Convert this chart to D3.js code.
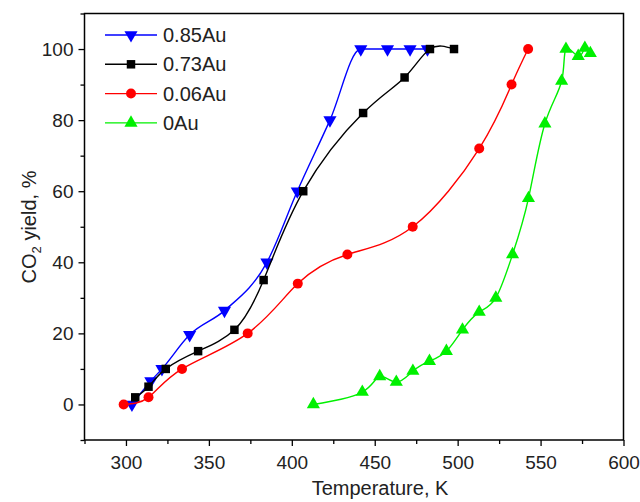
<!DOCTYPE html>
<html>
<head>
<meta charset="utf-8">
<script src="https://cdn.jsdelivr.net/npm/d3@7"></script>
<style>
  body { margin: 0; background: white; }
  svg { display: block; font-family: "Liberation Sans", Arial, sans-serif; }
</style>
</head>
<body>
<svg></svg>
<script>
const temp85 = [303.6, 315, 321.7, 338.4, 359.4, 385, 403.3, 423, 441.6, 457.7, 471.3, 481.8];
const yield85 = [0, 6.6, 10, 19.6, 26.4, 40, 60, 80, 100, 100, 100, 100];

const temp73 = [305.6, 313.6, 324, 343.5, 365.4, 383, 406.9, 443, 468, 483.3, 497.8];
const yield73 = [2, 5, 10, 15, 21, 35, 60, 82, 92, 100, 100];

const temp06 = [298.6, 313.6, 333.8, 373.4, 403.6, 433.5, 472.9, 513, 532.5, 542.5];
const yield06 = [0, 2, 10, 20, 34, 42.2, 50, 72, 90, 100];

const temp0 = [413, 442.5, 453, 463, 473, 483, 493.2, 502.9, 513, 523, 533.1, 542.7, 552.6, 562.7, 565.3, 572.7, 576.7, 580];
const yield0 = [0, 3.5, 7.9, 6.3, 9.4, 12.2, 15, 21, 26, 30, 42.2, 58, 79, 91, 100, 98, 100.3, 98.8];

const seriesNames = ["0.85Au", "0.73Au", "0.06Au", "0Au"];
const xTicks = [300, 350, 400, 450, 500, 550, 600];
const yTicks = [0, 20, 40, 60, 80, 100];

// blue plateaus at 100, so it gets a monotone curve (no overshoot)
const series = [
  { name: seriesNames[0], color: "#0000ff", symbol: "down", xs: temp85, ys: yield85, curve: d3.curveMonotoneX },
  { name: seriesNames[1], color: "#000000", symbol: "square", xs: temp73, ys: yield73, curve: d3.curveNatural },
  { name: seriesNames[2], color: "#ff0000", symbol: "circle", xs: temp06, ys: yield06, curve: d3.curveNatural },
  { name: seriesNames[3], color: "#00f000", symbol: "up", xs: temp0, ys: yield0, curve: d3.curveNatural }
];

const W = 640, H = 502;
const svg = d3.select("svg").attr("width", W).attr("height", H);

const x = d3.scaleLinear().domain([275, 600]).range([84.5, 623.5]);
const y = d3.scaleLinear().domain([-10, 110]).range([440, 13.5]);

// frame
svg.append("rect")
  .attr("x", x(275)).attr("y", y(110))
  .attr("width", x(600) - x(275)).attr("height", y(-10) - y(110))
  .attr("fill", "none").attr("stroke", "#000").attr("stroke-width", 1.5);

// x axis
svg.append("g")
  .attr("transform", `translate(0,${y(-10)})`)
  .call(d3.axisBottom(x).tickValues(xTicks).tickSize(6).tickPadding(10));
svg.append("g")
  .attr("transform", `translate(0,${y(-10)})`)
  .call(d3.axisBottom(x).tickValues(d3.range(275, 600, 50)).tickSize(4).tickFormat(""));

// y axis
svg.append("g")
  .attr("transform", `translate(${x(275)},0)`)
  .call(d3.axisLeft(y).tickValues(yTicks).tickSize(6).tickPadding(5));
svg.append("g")
  .attr("transform", `translate(${x(275)},0)`)
  .call(d3.axisLeft(y).tickValues(d3.range(-10, 111, 20)).tickSize(4).tickFormat(""));

svg.selectAll(".domain").remove();
svg.selectAll(".tick line").attr("stroke", "#000").attr("stroke-width", 1.3);
svg.selectAll(".tick text")
  .attr("fill", "#222")
  .style("font-size", "19px")
  .style("font-family", "'Liberation Sans', Arial, sans-serif");

// axis titles
svg.append("text")
  .attr("x", 380).attr("y", 495)
  .attr("text-anchor", "middle")
  .style("font-size", "20px").attr("fill", "#222")
  .text("Temperature, K");

const yt = svg.append("text")
  .attr("transform", `translate(36,227) rotate(-90)`)
  .attr("text-anchor", "middle")
  .style("font-size", "20px").attr("fill", "#222");
yt.append("tspan").text("CO");
yt.append("tspan").attr("dy", 5).style("font-size", "13px").text("2");
yt.append("tspan").attr("dy", -5).text(" yield, %");

const symbolType = {
  down: d3.symbolTriangle,
  up: d3.symbolTriangle,
  square: d3.symbolSquare,
  circle: d3.symbolCircle
};
const symbolSize = { down: 75, up: 75, square: 72, circle: 78 };

function drawMarker(g, s, cx, cy) {
  g.append("path")
    .attr("d", d3.symbol().type(symbolType[s.symbol]).size(symbolSize[s.symbol])())
    .attr("transform", `translate(${cx},${cy})` + (s.symbol === "down" ? " rotate(180)" : ""))
    .attr("fill", s.color);
}

series.forEach(s => {
  const pts = s.xs.map((v, i) => [v, s.ys[i]]);
  const line = d3.line()
    .x(d => x(d[0]))
    .y(d => y(d[1]))
    .curve(s.curve);
  svg.append("path")
    .datum(pts)
    .attr("d", line)
    .attr("fill", "none")
    .attr("stroke", s.color)
    .attr("stroke-width", 1.4);
  const g = svg.append("g");
  pts.forEach(p => drawMarker(g, s, x(p[0]), y(p[1])));
});

// legend
const legend = svg.append("g");
series.forEach((s, i) => {
  const ly = 35 + i * 29.3;
  legend.append("line")
    .attr("x1", 105).attr("x2", 157)
    .attr("y1", ly).attr("y2", ly)
    .attr("stroke", s.color).attr("stroke-width", 1.4);
  drawMarker(legend, s, 131, ly);
  legend.append("text")
    .attr("x", 163).attr("y", ly + 7)
    .style("font-size", "20px").attr("fill", "#222")
    .text(s.name);
});
</script>
</body>
</html>
